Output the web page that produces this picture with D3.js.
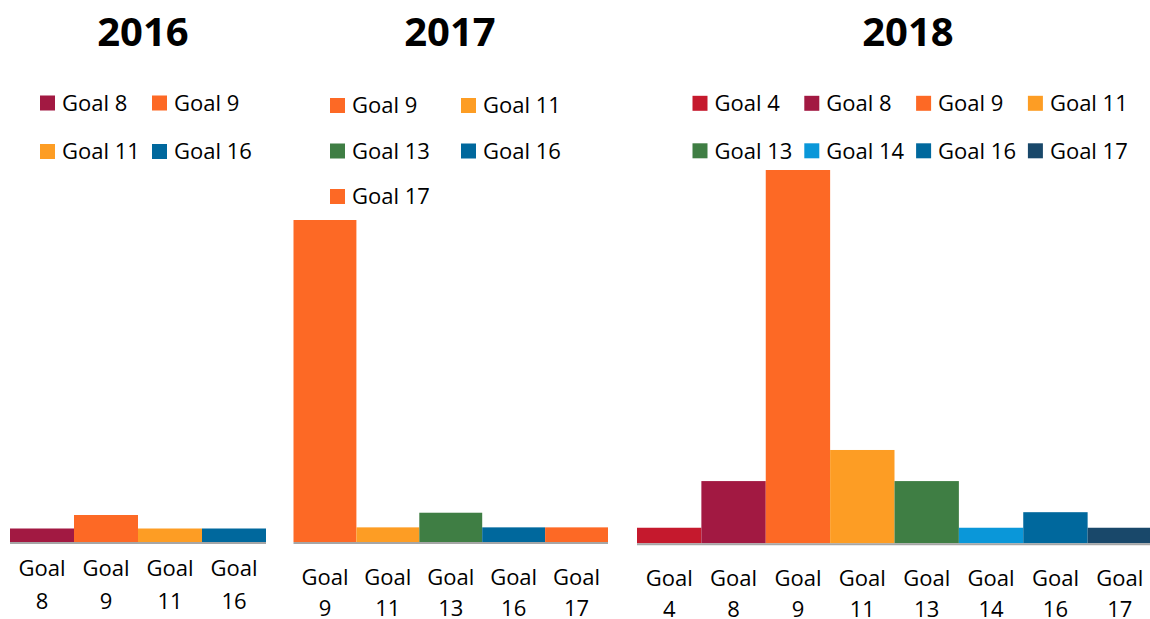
<!DOCTYPE html>
<html>
<head>
<meta charset="utf-8">
<script src="https://cdn.jsdelivr.net/npm/d3@7"></script>
<style>
  body { margin: 0; background: #fff; }
  text { font-family: "Open Sans", sans-serif; fill: #000; }
</style>
</head>
<body>
<div id="chart"></div>
<script>
// Data
var years = ["2016", "2017", "2018"];

var goals2016 = ["Goal 8", "Goal 9", "Goal 11", "Goal 16"];
var values2016 = [1, 2, 1, 1];
var colors2016 = ["#A21942", "#FD6925", "#FD9D24", "#00689D"];

var goals2017 = ["Goal 9", "Goal 11", "Goal 13", "Goal 16", "Goal 17"];
var values2017 = [22, 1, 2, 1, 1];
var colors2017 = ["#FD6925", "#FD9D24", "#3F7E44", "#00689D", "#FD6925"];

var goals2018 = ["Goal 4", "Goal 8", "Goal 9", "Goal 11", "Goal 13", "Goal 14", "Goal 16", "Goal 17"];
var values2018 = [1, 4, 24, 6, 4, 1, 2, 1];
var colors2018 = ["#C5192D", "#A21942", "#FD6925", "#FD9D24", "#3F7E44", "#0A97D9", "#00689D", "#19486A"];

// Canvas
var width = 1150, height = 619;

var svg = d3.select("#chart").append("svg")
    .attr("width", width)
    .attr("height", height);

// Panel layout (positions only)
var panels = [
    { year: years[0], goals: goals2016, values: values2016, colors: colors2016,
      x0: 10, x1: 266, base: 542, top: 515, titleX: 143,
      legX: 40, legDx: 112, legY: 103, legDy: 48.5, legCols: 2, labY: 568, labDy: 33 },
    { year: years[1], goals: goals2017, values: values2017, colors: colors2017,
      x0: 293.5, x1: 608, base: 542, top: 220, titleX: 450,
      legX: 330, legDx: 131, legY: 105.5, legDy: 45.5, legCols: 2, labY: 577, labDy: 31 },
    { year: years[2], goals: goals2018, values: values2018, colors: colors2018,
      x0: 637, x1: 1152, base: 543.3, top: 170, titleX: 908,
      legX: 692.5, legDx: 111.8, legY: 103.3, legDy: 47.5, legCols: 4, labY: 578, labDy: 31 }
];

panels.forEach(function(p) {
    var g = svg.append("g");

    var x = d3.scaleBand()
        .domain(p.goals)
        .range([p.x0, p.x1])
        .padding(0);

    var y = d3.scaleLinear()
        .domain([0, d3.max(p.values)])
        .range([p.base, p.top]);

    var color = d3.scaleOrdinal()
        .domain(p.goals)
        .range(p.colors);

    // Title
    g.append("text")
        .attr("x", p.titleX)
        .attr("y", 46)
        .attr("text-anchor", "middle")
        .style("font-size", "40px")
        .style("font-weight", "bold")
        .text(p.year);

    // Legend
    var leg = g.selectAll(".leg")
        .data(p.goals)
        .enter().append("g")
        .attr("transform", function(d, i) {
            return "translate(" + (p.legX + (i % p.legCols) * p.legDx) + "," + (p.legY + Math.floor(i / p.legCols) * p.legDy) + ")";
        });

    leg.append("rect")
        .attr("x", 0)
        .attr("y", -7.5)
        .attr("width", 15)
        .attr("height", 15)
        .style("fill", function(d) { return color(d); });

    leg.append("text")
        .attr("x", 22)
        .attr("y", 0)
        .attr("dy", "0.36em")
        .style("font-size", "22px")
        .text(function(d) { return d; });

    // Bars
    g.selectAll(".bar")
        .data(p.goals)
        .enter().append("rect")
        .attr("x", function(d) { return x(d); })
        .attr("width", x.bandwidth())
        .attr("y", function(d, i) { return y(p.values[i]); })
        .attr("height", function(d, i) { return p.base - y(p.values[i]); })
        .style("fill", function(d) { return color(d); });

    // Axis line
    g.append("line")
        .attr("x1", p.x0)
        .attr("x2", p.x1)
        .attr("y1", p.base + 1)
        .attr("y2", p.base + 1)
        .style("stroke", "#a6a6a6")
        .style("stroke-width", 2);

    // Category labels (two lines)
    var lab = g.selectAll(".lab")
        .data(p.goals)
        .enter().append("text")
        .attr("text-anchor", "middle")
        .style("font-size", "22px");

    lab.append("tspan")
        .attr("x", function(d) { return x(d) + x.bandwidth() / 2; })
        .attr("y", p.labY)
        .attr("dy", "0.36em")
        .text("Goal");

    lab.append("tspan")
        .attr("x", function(d) { return x(d) + x.bandwidth() / 2; })
        .attr("y", p.labY + p.labDy)
        .attr("dy", "0.36em")
        .text(function(d) { return d.replace("Goal ", ""); });
});
</script>
</body>
</html>
